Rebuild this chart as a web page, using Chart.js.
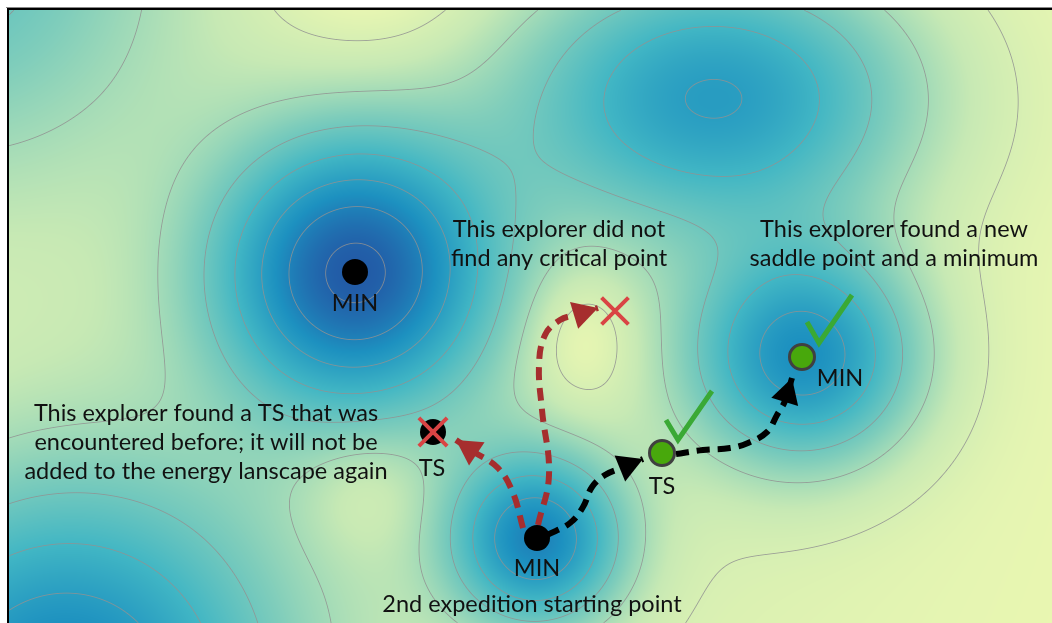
<!DOCTYPE html>
<html>
<head>
<meta charset="utf-8">
<script src="https://cdn.jsdelivr.net/npm/chart.js@4.4.1/dist/chart.umd.min.js"></script>
<style>
  html, body { margin: 0; padding: 0; background: #fff; }
</style>
</head>
<body>
<canvas id="landscape" width="1052" height="623"></canvas>
<script>
// wells (positive) and hills (negative) that shape the energy landscape, y grows downwards
const wellX = [355, 537, 717, 805, 60, -60, 400, 580, 370, 365];
const wellY = [272, 540, 96, 357, 700, -60, 420, 338, -30, 490];
const wellDepth = [0.97, 0.77, 0.69, 0.75, 0.85, 0.45, 0.12, -0.15, -0.10, -0.10];
const wellSpreadX = [96, 60, 140, 80, 150, 170, 330, 40, 80, 45];
const wellSpreadY = [96, 60, 95, 75, 150, 170, 300, 52, 80, 45];
const contourLevels = [0.08, 0.24, 0.40, 0.56, 0.72, 0.88, 1.04];

// critical points
const minX = [355, 537];
const minY = [272, 538];
const foundX = [662, 802];
const foundY = [453, 357];
const repeatTsX = [433];
const repeatTsY = [432];
const deadEndX = [615];
const deadEndY = [311];

// explorer paths (last point = arrow tip)
const pathDeadEndX = [538, 549, 542, 539, 545, 560, 575, 598];
const pathDeadEndY = [525, 475, 410, 365, 335, 320, 315, 308];
const pathRepeatX = [523, 513, 498, 474, 456];
const pathRepeatY = [528, 493, 468, 452, 440];
const pathSaddleX = [547, 570, 583, 592, 605, 621, 643];
const pathSaddleY = [535, 523, 507, 487, 475, 468, 459];
const pathNewMinX = [676, 703, 730, 748, 767, 777, 785, 792];
const pathNewMinY = [454, 450, 448, 443, 432, 415, 401, 378];

// check marks
const check1X = [666, 678, 712];
const check1Y = [420, 440, 391];
const check2X = [807, 819, 852];
const check2Y = [322, 343, 295];

// labels
const labelText = [
  "MIN", "MIN", "MIN", "TS", "TS",
  "This explorer did not", "find any critical point",
  "This explorer found a new", "saddle point and a minimum",
  "This explorer found a TS that was", "encountered before; it will not be", "added to the energy lanscape again",
  "2nd expedition starting point"
];
const labelX = [355, 537, 840, 432, 662, 559, 559, 894, 894, 206, 206, 206, 532];
const labelY = [303, 568, 378, 468, 486, 229, 258, 229, 258, 413, 442, 471, 604];

const ylgnbu = [[255,255,217],[237,248,177],[199,233,180],[127,205,187],[65,182,196],[29,145,192],[34,94,168],[37,52,148],[8,29,88]];

function depthAt(px, py) {
    let d = 0;
    for (let i = 0; i < wellX.length; i++) {
        const dx = (px - wellX[i]) / wellSpreadX[i];
        const dy = (py - wellY[i]) / wellSpreadY[i];
        d += wellDepth[i] * Math.exp(-0.5 * (dx * dx + dy * dy));
    }
    return d;
}

function colourFor(d) {
    let t = 0.12 + 0.6 * Math.pow(Math.max(0, d), 0.8);
    t = Math.max(0, Math.min(0.82, t)) * (ylgnbu.length - 1);
    const i = Math.min(ylgnbu.length - 2, Math.floor(t));
    const f = t - i;
    const a = ylgnbu[i], b = ylgnbu[i + 1];
    return [a[0] + (b[0] - a[0]) * f, a[1] + (b[1] - a[1]) * f, a[2] + (b[2] - a[2]) * f];
}

function buildField(chart) {
    const area = chart.chartArea;
    const sx = chart.scales.x, sy = chart.scales.y;
    const w = Math.round(area.right - area.left), h = Math.round(area.bottom - area.top);
    const vals = new Float32Array(w * h);
    for (let j = 0; j < h; j++) {
        const vy = sy.getValueForPixel(area.top + j + 0.5);
        for (let i = 0; i < w; i++) {
            vals[j * w + i] = depthAt(sx.getValueForPixel(area.left + i + 0.5), vy);
        }
    }
    const off = document.createElement("canvas");
    off.width = w; off.height = h;
    const octx = off.getContext("2d");
    const img = octx.createImageData(w, h);
    for (let j = 0; j < h; j++) {
        for (let i = 0; i < w; i++) {
            const k = j * w + i;
            const d = vals[k];
            let [r, g, b] = colourFor(d);
            const gx = (vals[j * w + Math.min(w - 1, i + 1)] - vals[j * w + Math.max(0, i - 1)]) / 2;
            const gy = (vals[Math.min(h - 1, j + 1) * w + i] - vals[Math.max(0, j - 1) * w + i]) / 2;
            const grad = Math.hypot(gx, gy) + 1e-9;
            let cover = 0;
            for (const lv of contourLevels) {
                const dist = Math.abs(d - lv) / grad;
                cover = Math.max(cover, 1 - dist / 0.9);
            }
            if (cover > 0) {
                const a = 0.8 * cover;
                r = r * (1 - a) + 145 * a;
                g = g * (1 - a) + 145 * a;
                b = b * (1 - a) + 145 * a;
            }
            img.data[k * 4] = r;
            img.data[k * 4 + 1] = g;
            img.data[k * 4 + 2] = b;
            img.data[k * 4 + 3] = 255;
        }
    }
    octx.putImageData(img, 0, 0);
    return off;
}

const landscapePlugin = {
    id: "landscape",
    beforeDatasetsDraw(chart) {
        if (!chart.$field) chart.$field = buildField(chart);
        const a = chart.chartArea;
        chart.ctx.drawImage(chart.$field, a.left, a.top);
    },
    afterDatasetDraw(chart, args) {
        const ds = chart.data.datasets[args.index];
        if (!ds.arrowHead) return;
        const pts = args.meta.data;
        const tip = pts[pts.length - 1], base = pts[pts.length - 2];
        const ang = Math.atan2(tip.y - base.y, tip.x - base.x);
        const len = 25, half = 14;
        const ctx = chart.ctx;
        const bx = tip.x - Math.cos(ang) * len, by = tip.y - Math.sin(ang) * len;
        ctx.save();
        ctx.fillStyle = ds.borderColor;
        ctx.beginPath();
        ctx.moveTo(tip.x, tip.y);
        ctx.lineTo(bx - Math.sin(ang) * half, by + Math.cos(ang) * half);
        ctx.lineTo(bx + Math.sin(ang) * half, by - Math.cos(ang) * half);
        ctx.closePath();
        ctx.fill();
        ctx.restore();
    },
    afterDraw(chart) {
        const {ctx, chartArea: a, scales: {x, y}} = chart;
        ctx.save();
        ctx.fillStyle = "#111";
        ctx.font = "23.5px Lato";
        ctx.textAlign = "center";
        ctx.textBaseline = "middle";
        labelText.forEach((t, i) => ctx.fillText(t, x.getPixelForValue(labelX[i]), y.getPixelForValue(labelY[i])));
        // frame
        ctx.fillStyle = "#888";
        ctx.fillRect(a.left - 3, a.top - 3, a.right - a.left + 3, 1);
        ctx.fillStyle = "#000";
        ctx.fillRect(a.left - 2, a.top - 2, 2, a.bottom - a.top + 2);
        ctx.fillRect(a.left - 2, a.top - 2, a.right - a.left + 2, 2);
        ctx.restore();
    }
};

const xy = (xs, ys) => xs.map((v, i) => ({x: v, y: ys[i]}));

const arrow = (xs, ys, colour) => ({
    data: xy(xs, ys),
    showLine: true,
    borderColor: colour,
    borderWidth: 6,
    borderDash: [13, 8],
    tension: 0.4,
    pointRadius: 0,
    arrowHead: true,
    order: 5
});

const check = (xs, ys) => ({
    data: xy(xs, ys),
    showLine: true,
    borderColor: "#3aa935",
    borderWidth: 5,
    borderJoinStyle: "miter",
    tension: 0,
    pointRadius: 0,
    order: 1
});

new Chart(document.getElementById("landscape").getContext("2d"), {
    type: "scatter",
    data: {
        datasets: [
            arrow(pathDeadEndX, pathDeadEndY, "#a62e2e"),
            arrow(pathRepeatX, pathRepeatY, "#a62e2e"),
            arrow(pathSaddleX, pathSaddleY, "#000000"),
            arrow(pathNewMinX, pathNewMinY, "#000000"),
            {
                data: xy(minX, minY),
                pointRadius: 13,
                backgroundColor: "#000",
                borderWidth: 0,
                order: 3
            },
            {
                data: xy(repeatTsX, repeatTsY),
                pointRadius: 13,
                backgroundColor: "#000",
                borderWidth: 0,
                order: 3
            },
            {
                data: xy(foundX, foundY),
                pointRadius: 12.5,
                backgroundColor: "#48a80c",
                borderColor: "#404040",
                borderWidth: 3,
                order: 3
            },
            {
                data: xy(repeatTsX, repeatTsY),
                pointStyle: "crossRot",
                pointRadius: 20,
                borderColor: "#d94444",
                borderWidth: 4,
                order: 1
            },
            {
                data: xy(deadEndX, deadEndY),
                pointStyle: "crossRot",
                pointRadius: 19,
                borderColor: "#d94444",
                borderWidth: 4,
                order: 1
            },
            check(check1X, check1Y),
            check(check2X, check2Y)
        ]
    },
    options: {
        responsive: false,
        animation: false,
        events: [],
        layout: { autoPadding: false, padding: { left: 9, top: 10, right: 0, bottom: 0 } },
        plugins: { legend: { display: false }, tooltip: { enabled: false } },
        scales: {
            x: { type: "linear", min: 9, max: 1052, display: false },
            y: { type: "linear", min: 10, max: 623, reverse: true, display: false }
        }
    },
    plugins: [landscapePlugin]
});
</script>
</body>
</html>
